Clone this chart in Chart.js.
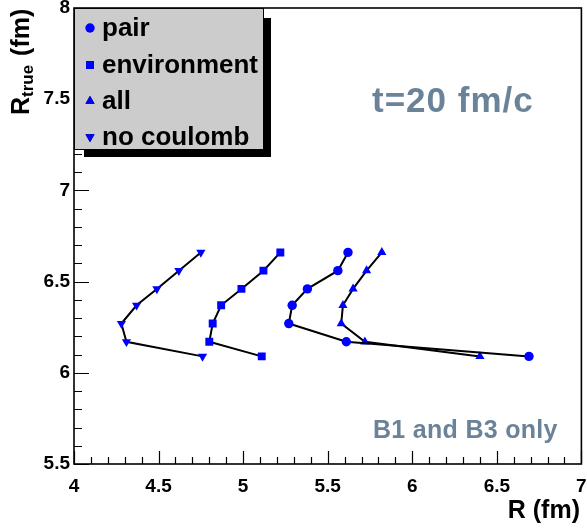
<!DOCTYPE html>
<html><head><meta charset="utf-8">
<script src="https://cdn.jsdelivr.net/npm/chart.js@4"></script>
<style>html,body{margin:0;padding:0;background:#fff}#wrap{width:587px;height:529px}</style>
</head><body><div id="wrap"><canvas id="c" width="587" height="529"></canvas></div>
<script>
// ---- data ----
const seriesNames = ['pair', 'environment', 'all', 'no coulomb'];
const rTrue = [6.66, 6.56, 6.46, 6.37, 6.27, 6.17, 6.09];
const pairR = [5.62, 5.56, 5.38, 5.29, 5.27, 5.61, 6.69];
const environmentR = [5.22, 5.12, 4.99, 4.87, 4.82, 4.80, 5.11];
const allR = [5.82, 5.73, 5.65, 5.59, 5.58, 5.72, 6.40];
const noCoulombR = [4.75, 4.62, 4.49, 4.37, 4.28, 4.31, 4.76];
const xTickValues = [4, 4.5, 5, 5.5, 6, 6.5, 7];
const yTickValues = [5.5, 6, 6.5, 7, 7.5, 8];
const annotationMain = 't=20 fm/c';
const annotationSub = 'B1 and B3 only';

const FONT = '"Liberation Sans", Arial, Helvetica, sans-serif';
const BLUE = '#0000ff';
const SLATE = '#6a8399';

function pts(xs) { return xs.map((x, i) => ({ x: x, y: rTrue[i] })); }
const styles = [
  { pointStyle: 'circle', rot: 0, r: 4.7 },
  { pointStyle: 'rect', rot: 0, r: 5.6 },
  { pointStyle: 'triangle', rot: 0, r: 5.3 },
  { pointStyle: 'triangle', rot: 180, r: 5.3 }
];
const seriesData = [pairR, environmentR, allR, noCoulombR];
const datasets = seriesData.map((xs, k) => ({
  label: seriesNames[k],
  data: pts(xs),
  showLine: true,
  borderColor: '#000',
  borderWidth: 2,
  tension: 0,
  pointStyle: styles[k].pointStyle,
  pointRotation: styles[k].rot,
  pointRadius: styles[k].r,
  pointHoverRadius: styles[k].r,
  pointBackgroundColor: BLUE,
  pointBorderColor: BLUE,
  pointBorderWidth: 0
}));

const framePlugin = {
  id: 'frame',
  beforeDatasetsDraw(chart) {
    const ctx = chart.ctx, a = chart.chartArea;
    const xs = chart.scales.x, ys = chart.scales.y;
    ctx.save();
    ctx.strokeStyle = '#000';
    ctx.lineWidth = 1.6;
    ctx.strokeRect(a.left, a.top, a.right - a.left, a.bottom - a.top);
    ctx.lineWidth = 1.2;
    ctx.beginPath();
    for (let i = 0; i <= 30; i++) {
      const v = 4 + i * 0.1;
      const px = Math.round(xs.getPixelForValue(v)) + 0.5;
      const len = (i % 5 === 0) ? 13 : 7;
      ctx.moveTo(px, a.bottom);
      ctx.lineTo(px, a.bottom - len);
    }
    for (let i = 0; i <= 25; i++) {
      const v = 5.5 + i * 0.1;
      const py = Math.round(ys.getPixelForValue(v)) + 0.5;
      const len = (i % 5 === 0) ? 15 : 8;
      ctx.moveTo(a.left, py);
      ctx.lineTo(a.left + len, py);
    }
    ctx.stroke();
    ctx.restore();
  },
  afterDraw(chart) {
    const ctx = chart.ctx, a = chart.chartArea;
    ctx.save();
    // legend box with shadow
    const L = a.left, T = a.top, W = 190, H = 142, S = 7;
    ctx.fillStyle = '#000';
    ctx.fillRect(L + W, T + 10, S, H - 10 + S);
    ctx.fillRect(L + 10, T + H, W - 10 + S, S);
    ctx.fillStyle = '#cccccc';
    ctx.fillRect(L, T, W, H);
    ctx.strokeStyle = '#000';
    ctx.lineWidth = 1;
    ctx.strokeRect(L + 0.5, T + 0.5, W - 1, H - 1);
    const rows = [28, 65, 101, 137];
    ctx.font = 'bold 26px ' + FONT;
    ctx.textBaseline = 'middle';
    ctx.textAlign = 'left';
    chart.data.datasets.forEach((ds, k) => {
      Chart.helpers.drawPoint(ctx, {
        pointStyle: ds.pointStyle, rotation: ds.pointRotation,
        radius: ds.pointRadius, borderWidth: 0
      }, L + 16, rows[k]);
      ctx.fillStyle = BLUE;
      ctx.fill();
      ctx.fillStyle = '#000';
      ctx.fillText(ds.label, L + 28, rows[k] + 1);
    });
    // annotations
    ctx.fillStyle = SLATE;
    ctx.textBaseline = 'alphabetic';
    ctx.font = 'bold 35px ' + FONT;
    try { ctx.letterSpacing = '1px'; } catch (e) {}
    ctx.fillText(annotationMain, 372, 112);
    ctx.font = 'bold 25px ' + FONT;
    try { ctx.letterSpacing = '0.3px'; } catch (e) {}
    ctx.fillText(annotationSub, 373, 438);
    try { ctx.letterSpacing = '0px'; } catch (e) {}
    // x title
    ctx.fillStyle = '#000';
    ctx.font = 'bold 25px ' + FONT;
    ctx.textAlign = 'right';
    ctx.fillText('R (fm)', 580, 518);
    // y title with subscript
    ctx.translate(29, 115);
    ctx.rotate(-Math.PI / 2);
    ctx.textAlign = 'left';
    ctx.font = 'bold 25px ' + FONT;
    ctx.fillText('R', 0, 0);
    let w = ctx.measureText('R').width;
    ctx.font = 'bold 17px ' + FONT;
    ctx.fillText('true', w, 4);
    w += ctx.measureText('true').width + 2;
    ctx.font = 'bold 25px ' + FONT;
    ctx.fillText(' (fm)', w, 0);
    ctx.restore();
  }
};

new Chart(document.getElementById('c'), {
  type: 'scatter',
  data: { datasets: datasets },
  options: {
    responsive: false,
    animation: false,
    devicePixelRatio: 1,
    layout: { padding: { left: 0, right: 4, top: 8, bottom: 0 } },
    plugins: { legend: { display: false }, tooltip: { enabled: false } },
    scales: {
      x: {
        type: 'linear', min: 4, max: 7,
        grid: { display: false, drawTicks: false },
        border: { display: false },
        afterBuildTicks: s => { s.ticks = xTickValues.map(v => ({ value: v })); },
        afterFit: s => { s.height = 65; s.paddingLeft = 0; s.paddingRight = 0; },
        ticks: { color: '#000', font: { family: FONT, size: 19, weight: 'bold' }, padding: 11, maxRotation: 0, autoSkip: false,
          callback: v => String(v) }
      },
      y: {
        type: 'linear', min: 5.5, max: 8,
        grid: { display: false, drawTicks: false },
        border: { display: false },
        afterBuildTicks: s => { s.ticks = yTickValues.map(v => ({ value: v })); },
        afterFit: s => { s.width = 74; s.paddingTop = 0; s.paddingBottom = 0; },
        ticks: { color: '#000', font: { family: FONT, size: 19, weight: 'bold' }, padding: 4, autoSkip: false,
          callback: v => String(v) }
      }
    }
  },
  plugins: [framePlugin]
});
</script>
</body></html>
